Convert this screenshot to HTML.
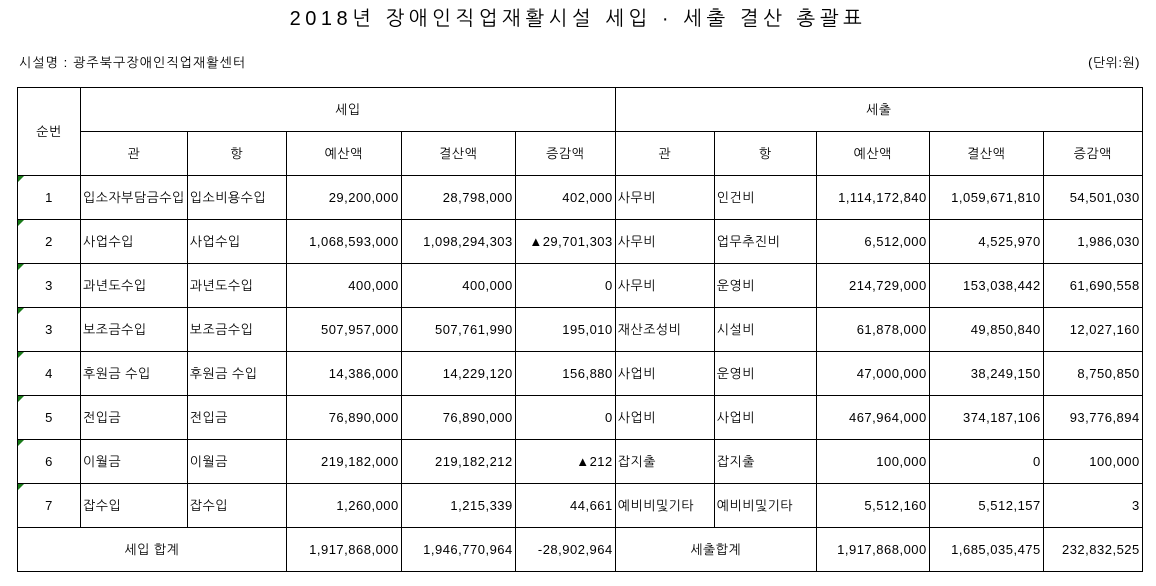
<!DOCTYPE html>
<html><head><meta charset="utf-8"><style>
body{margin:0;background:#fff;width:1156px;height:586px;position:relative;overflow:hidden;font-family:"Liberation Sans","NanumGothic","Noto Sans CJK KR",sans-serif;color:#000}
.t{position:absolute;top:6px;left:0;width:1156px;text-align:center;font-size:20px;letter-spacing:4.5px}
.s{position:absolute;top:55px;left:19px;font-size:13px;letter-spacing:1.1px}
.u{position:absolute;top:55px;right:16px;font-size:13px;letter-spacing:0.5px}
table{position:absolute;left:17px;top:87px;border-collapse:collapse;table-layout:fixed;font-size:13px;letter-spacing:0.5px}
td{border:1px solid #000;height:43px;padding:0 2px;white-space:nowrap;overflow:hidden;position:relative}
.c{text-align:center}.r{text-align:right}.l{text-align:left}
.g::before{content:"";position:absolute;left:0;top:0;border-top:6px solid #1a7a1a;border-right:6px solid transparent}
</style></head><body>
<div class="t">2018년 장애인직업재활시설 세입 · 세출 결산 총괄표</div>
<div class="s">시설명 : 광주북구장애인직업재활센터</div>
<div class="u">(단위:원)</div>
<table>
<colgroup><col style="width:63px"><col style="width:106px"><col style="width:99px"><col style="width:115px"><col style="width:114px"><col style="width:100px"><col style="width:99px"><col style="width:102px"><col style="width:113px"><col style="width:114px"><col style="width:99px"></colgroup>
<tr><td class="c" rowspan="2">순번</td><td class="c" colspan="5">세입</td><td class="c" colspan="5">세출</td></tr>
<tr><td class="c">관</td><td class="c">항</td><td class="c">예산액</td><td class="c">결산액</td><td class="c">증감액</td><td class="c">관</td><td class="c">항</td><td class="c">예산액</td><td class="c">결산액</td><td class="c">증감액</td></tr>
<tr><td class="c g">1</td><td>입소자부담금수입</td><td>입소비용수입</td><td class="r">29,200,000</td><td class="r">28,798,000</td><td class="r">402,000</td><td>사무비</td><td>인건비</td><td class="r">1,114,172,840</td><td class="r">1,059,671,810</td><td class="r">54,501,030</td></tr>
<tr><td class="c g">2</td><td>사업수입</td><td>사업수입</td><td class="r">1,068,593,000</td><td class="r">1,098,294,303</td><td class="r">▲29,701,303</td><td>사무비</td><td>업무추진비</td><td class="r">6,512,000</td><td class="r">4,525,970</td><td class="r">1,986,030</td></tr>
<tr><td class="c g">3</td><td>과년도수입</td><td>과년도수입</td><td class="r">400,000</td><td class="r">400,000</td><td class="r">0</td><td>사무비</td><td>운영비</td><td class="r">214,729,000</td><td class="r">153,038,442</td><td class="r">61,690,558</td></tr>
<tr><td class="c g">3</td><td>보조금수입</td><td>보조금수입</td><td class="r">507,957,000</td><td class="r">507,761,990</td><td class="r">195,010</td><td>재산조성비</td><td>시설비</td><td class="r">61,878,000</td><td class="r">49,850,840</td><td class="r">12,027,160</td></tr>
<tr><td class="c g">4</td><td>후원금 수입</td><td>후원금 수입</td><td class="r">14,386,000</td><td class="r">14,229,120</td><td class="r">156,880</td><td>사업비</td><td>운영비</td><td class="r">47,000,000</td><td class="r">38,249,150</td><td class="r">8,750,850</td></tr>
<tr><td class="c g">5</td><td>전입금</td><td>전입금</td><td class="r">76,890,000</td><td class="r">76,890,000</td><td class="r">0</td><td>사업비</td><td>사업비</td><td class="r">467,964,000</td><td class="r">374,187,106</td><td class="r">93,776,894</td></tr>
<tr><td class="c g">6</td><td>이월금</td><td>이월금</td><td class="r">219,182,000</td><td class="r">219,182,212</td><td class="r">▲212</td><td>잡지출</td><td>잡지출</td><td class="r">100,000</td><td class="r">0</td><td class="r">100,000</td></tr>
<tr><td class="c g">7</td><td>잡수입</td><td>잡수입</td><td class="r">1,260,000</td><td class="r">1,215,339</td><td class="r">44,661</td><td>예비비및기타</td><td>예비비및기타</td><td class="r">5,512,160</td><td class="r">5,512,157</td><td class="r">3</td></tr>
<tr><td class="c" colspan="3">세입 합계</td><td class="r">1,917,868,000</td><td class="r">1,946,770,964</td><td class="r">-28,902,964</td><td class="c" colspan="2">세출합계</td><td class="r">1,917,868,000</td><td class="r">1,685,035,475</td><td class="r">232,832,525</td></tr>
</table>
</body></html>
